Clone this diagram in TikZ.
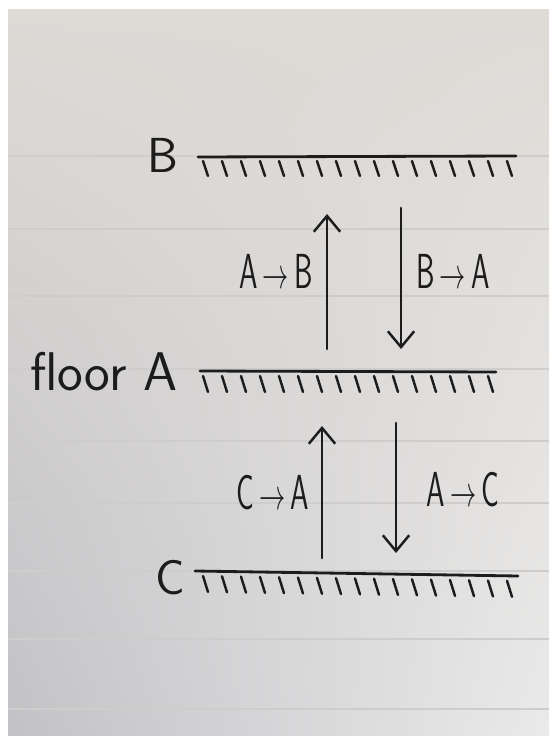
\documentclass[tikz,border=0pt]{standalone}
\usepackage{fontspec}
\usepackage{graphicx}
\usetikzlibrary{arrows.meta, shadings}
\definecolor{papertop}{HTML}{DEDAD6}
\definecolor{paperlow}{HTML}{C2C2C6}
\definecolor{paperright}{HTML}{EAEAEA}
\definecolor{ruling}{HTML}{CFCDCC}
\definecolor{ink}{HTML}{1C1C1C}

\tikzset{
    pen/.style={ink, line width=1.6pt, line cap=round},
    hatch/.style={ink, line width=1.4pt, line cap=round},
    lift/.style={pen, -{Straight Barb[length=9pt, width=15pt, line width=1.4pt]}},
    hand/.style={ink, font=\sffamily\fontsize{28}{32}\selectfont, inner sep=0pt},
}
\newcommand{\hop}[2]{\scalebox{0.6}[1]{#1\,$\rightarrow$\,#2}}

\begin{document}
\begin{tikzpicture}[x=0.02cm, y=-0.02cm]

    \useasboundingbox (0,0) rectangle (549,736);

    % Paper
        %% sheet
        \shade [lower left=paperlow, upper left=papertop,
                upper right=papertop, lower right=paperright]
            (8,10) rectangle (549,736);

        %% ruled lines
        \foreach \ry in {156,229,296,369,441,503,571,639,709}
            \draw [ruling, line width=1pt] (8,\ry) -- (549,\ry);

    % Floors
        %% floor B
        \node [hand] (floorB) at (163,155) {B};
        \draw [pen] (198,157) -- (516,156);
        \foreach \i in {0,...,16}
            \draw [hatch] ({203+19*\i},161) -- ++(5,15);

        %% floor A
        \node [hand, font=\sffamily\fontsize{31}{34}\selectfont] (floorA) at (104,372) {floor A};
        \draw [pen] (200,371) -- (496,372);
        \foreach \i in {0,...,15}
            \draw [hatch] ({203+19*\i},376) -- ++(5,16);

        %% floor C
        \node [hand] (floorC) at (170,578) {C};
        \draw [pen] (195,571) -- (518,576);
        \foreach \i in {0,...,16}
            \draw [hatch] ({203+19*\i},{576+0.3*\i}) -- ++(5,16);

    % Trips between B and A
        \coordinate (ab0) at (327,349);
        \coordinate (ab1) at (327,214);
        \coordinate (ba0) at (401,208);
        \coordinate (ba1) at (401,349);
        \draw [lift] (ab0) -- (ab1);
        \draw [lift] (ba0) -- (ba1);
        \node [hand] (hopAB) at (276,271) {\hop{A}{B}};
        \node [hand] (hopBA) at (453,271) {\hop{B}{A}};

    % Trips between A and C
        \coordinate (ca0) at (322,558);
        \coordinate (ca1) at (322,426);
        \coordinate (ac0) at (396,423);
        \coordinate (ac1) at (396,553);
        \draw [lift] (ca0) -- (ca1);
        \draw [lift] (ac0) -- (ac1);
        \node [hand] (hopCA) at (273,493) {\hop{C}{A}};
        \node [hand] (hopAC) at (463,490) {\hop{A}{C}};

\end{tikzpicture}
\end{document}
